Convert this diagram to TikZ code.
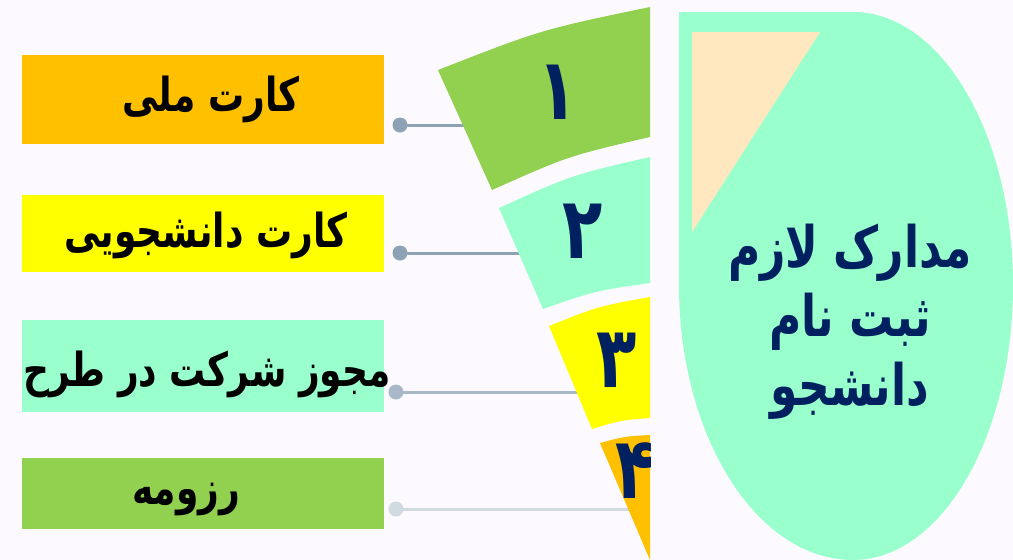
\documentclass[tikz,border=0pt]{standalone}
\usepackage{graphicx}
\usepackage{fontspec}
\TeXXeTstate=1
\newfontfamily\fa[Script=Arabic]{DejaVu Sans}
\newcommand{\tallR}[1]{\scalebox{1}[1.3]{\beginR #1\endR}}
\definecolor{bgc}{RGB}{252,250,254}
\definecolor{orangec}{RGB}{255,192,0}
\definecolor{yellowc}{RGB}{255,255,0}
\definecolor{mintc}{RGB}{153,255,204}
\definecolor{greenc}{RGB}{146,208,80}
\definecolor{beigec}{RGB}{255,232,191}
\definecolor{navyc}{RGB}{0,32,96}
\definecolor{linea}{RGB}{141,162,181}
\definecolor{lineb}{RGB}{168,184,200}
\definecolor{linec}{RGB}{208,218,224}
\begin{document}
\begin{tikzpicture}[x=1pt,y=-1pt,
  itembox/.style={draw=none,minimum width=362pt,inner sep=0pt,text=black},
  itemtext/.style={font=\fa\bfseries\fontsize{36}{40}\selectfont,text=black,inner sep=0pt},
  digit/.style={font=\fa\bfseries\fontsize{66}{70}\selectfont,text=navyc,inner sep=0pt},
  dotnode/.style={circle,minimum size=15pt,inner sep=0pt},
  conn/.style={line width=3pt}]
\fill[bgc] (0,0) rectangle (1013,560);
\useasboundingbox (0,0) rectangle (1013,560);
% right shape
\fill[mintc] (679,12) -- (853,12) arc[start angle=-90,end angle=0,x radius=160,y radius=273]
  arc[start angle=0,end angle=90,x radius=160,y radius=275]
  arc[start angle=90,end angle=180,x radius=174,y radius=275] -- cycle;
\fill[beigec] (692,32) -- (820,32) -- (692,232) -- cycle;
\node[font=\fa\bfseries\fontsize{44}{69}\selectfont,text=navyc,align=center] (title) at (850,322)
  {\tallR{مدارک لازم}\\ \tallR{ثبت نام}\\ \tallR{دانشجو}};
% left boxes
\node[itembox,fill=orangec,minimum height=89pt] (b1) at (203,99.5) {};
\node[itembox,fill=yellowc,minimum height=77pt] (b2) at (203,233.5) {};
\node[itembox,fill=mintc,minimum height=92pt] (b3) at (203,366) {};
\node[itembox,fill=greenc,minimum height=71pt] (b4) at (203,493.5) {};
\node[itemtext] (t1) at (211,99) {\tallR{کارت ملی}};
\node[itemtext] (t2) at (206,235) {\tallR{کارت دانشجویی}};
\node[itemtext] (t3) at (207,374) {\tallR{مجوز شرکت در طرح}};
\node[itemtext] (t4) at (186,500) {\tallR{رزومه}};
% connectors
\node[dotnode,fill=linea] (d1) at (400,125) {};
\node[dotnode,fill=linea] (d2) at (400,253) {};
\node[dotnode,fill=lineb] (d3) at (396,392) {};
\node[dotnode,fill=linec] (d4) at (396,509) {};
\coordinate (e1) at (466,125);
\coordinate (e2) at (522,253);
\coordinate (e3) at (580,392);
\coordinate (e4) at (630,509);
\draw[conn,linea] (d1.center) -- (e1);
\draw[conn,linea] (d2.center) -- (e2);
\draw[conn,lineb] (d3.center) -- (e3);
\draw[conn,linec] (d4.center) -- (e4);
% funnel segments
\fill[greenc] (438,70) .. controls (541.3,29.6) .. (650,7) -- (650,137) .. controls (568.5,155.9) .. (492,190) -- cycle;
\fill[mintc] (499,208) .. controls (571.9,174.9) .. (650,157) -- (650,283) .. controls (595.2,290.8) .. (543,309) -- cycle;
\fill[yellowc] (549,326) .. controls (598.0,306.4) .. (650,297) -- (650,418) .. controls (620.4,420.3) .. (592,429) -- cycle;
\fill[orangec] (600,443) .. controls (624.6,436.4) .. (650,435) -- (650,560) -- cycle;
\node[digit] (n1) at (558,92) {\tallR{۱}};
\node[digit] (n2) at (583,231) {\tallR{۲}};
\node[digit] (n3) at (617,360) {\tallR{۳}};
\begin{scope}
\clip (0,0) rectangle (650,560);
\node[digit] (n4) at (636,471) {\tallR{۴}};
\end{scope}
\end{tikzpicture}
\end{document}
